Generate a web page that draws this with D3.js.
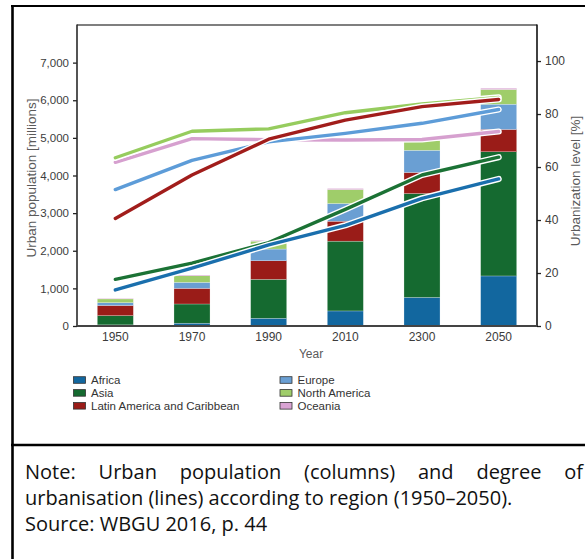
<!DOCTYPE html>
<html>
<head>
<meta charset="utf-8">
<script src="https://cdn.jsdelivr.net/npm/d3@7"></script>
<style>
  html, body { margin: 0; padding: 0; background: #fff; }
  svg { display: block; }
</style>
</head>
<body>
<svg id="chart" width="585" height="559"></svg>
<script>
// ---- data ----
const years = ["1950", "1970", "1990", "2010", "2300", "2050"];
const regions = ["Africa", "Asia", "Latin America and Caribbean", "Europe", "North America", "Oceania"];
// urban population (millions), stacked columns
const africaPop   = [30, 75, 205, 400, 760, 1330];
const asiaPop     = [245, 510, 1035, 1855, 2760, 3300];
const latamPop    = [270, 415, 495, 530, 560, 595];
const europePop   = [75, 160, 310, 470, 590, 670];
const northAmPop  = [100, 175, 210, 370, 265, 390];
const oceaniaPop  = [15, 20, 20, 30, 50, 35];
// urbanization level (%), lines
const africaPct   = [13.6, 21.8, 30.6, 38.0, 48.2, 55.5];
const asiaPct     = [17.6, 23.7, 31.5, 44.0, 57.0, 63.7];
const latamPct    = [40.6, 57.0, 70.5, 77.7, 82.8, 85.5];
const europePct   = [51.5, 62.5, 69.5, 72.7, 76.5, 81.7];
const northAmPct  = [63.5, 73.5, 74.4, 80.5, 83.8, 86.3];
const oceaniaPct  = [61.8, 70.7, 70.3, 70.2, 70.4, 73.4];
const popTicks = [0, 1000, 2000, 3000, 4000, 5000, 6000, 7000];
const pctTicks = [0, 20, 40, 60, 80, 100];
const noteLine1 = ["Note:", "Urban", "population", "(columns)", "and", "degree", "of"];
const noteLine2 = "urbanisation (lines) according to region (1950–2050).";
const noteLine3 = "Source: WBGU 2016, p. 44";

// ---- styles ----
const barColors  = ["#12679f", "#156a30", "#9a1c18", "#6a9fd3", "#9fcd6a", "#d9a3d3"];
const lineColors = ["#1a6fad", "#1b7235", "#a11d1b", "#5d9cd8", "#96cc5e", "#d6a0cf"];

const popSeries = [africaPop, asiaPop, latamPop, europePop, northAmPop, oceaniaPop];
const pctSeries = [africaPct, asiaPct, latamPct, europePct, northAmPct, oceaniaPct];

const table = years.map((y, i) => {
  const row = { year: y };
  regions.forEach((r, k) => row[r] = popSeries[k][i]);
  return row;
});

const svg = d3.select("#chart");
const L = 77, R = 537, T = 25, B = 326;

const x = d3.scaleBand().domain(years).range([L, R]).paddingInner(0.53).paddingOuter(0.265);
const yPop = d3.scaleLinear().domain([0, 8000]).range([B, T]);
const yPct = d3.scaleLinear().domain([0, 113.6]).range([B, T]);

// outer frame
svg.append("line").attr("x1", 11).attr("x2", 585).attr("y1", 6).attr("y2", 6)
  .attr("stroke", "#000").attr("stroke-width", 2.2);
svg.append("line").attr("x1", 12.5).attr("x2", 12.5).attr("y1", 5).attr("y2", 559)
  .attr("stroke", "#000").attr("stroke-width", 2.6);
svg.append("line").attr("x1", 11).attr("x2", 585).attr("y1", 445).attr("y2", 445)
  .attr("stroke", "#000").attr("stroke-width", 2.6);

// bars
const stack = d3.stack().keys(regions)(table);
svg.append("g").selectAll("g").data(stack).join("g")
  .attr("fill", (d, i) => barColors[i])
  .selectAll("rect").data(d => d).join("rect")
  .attr("x", d => x(d.data.year))
  .attr("width", x.bandwidth())
  .attr("y", d => yPop(d[1]))
  .attr("height", d => yPop(d[0]) - yPop(d[1]))
  .attr("stroke", "#ffffff").attr("stroke-width", 0.4).attr("stroke-opacity", 0.6);

// plot frame: top line
svg.append("line").attr("x1", L).attr("x2", R).attr("y1", T).attr("y2", T)
  .attr("stroke", "#555").attr("stroke-width", 1.3);

// lines
const line = d3.line().x((d, i) => x(years[i]) + x.bandwidth() / 2).y(d => yPct(d));
const lg = svg.append("g");
const order = [5, 4, 3, 2, 1, 0];
order.forEach(k => {
  lg.append("path").attr("d", line(pctSeries[k])).attr("fill", "none")
    .attr("stroke", "#ffffff").attr("stroke-width", 6.2)
    .attr("stroke-linecap", "round").attr("stroke-linejoin", "round");
  lg.append("path").attr("d", line(pctSeries[k])).attr("fill", "none")
    .attr("stroke", lineColors[k]).attr("stroke-width", 3.4)
    .attr("stroke-linecap", "round").attr("stroke-linejoin", "round");
});

// axes
const fontFam = "'Liberation Sans', Arial, Helvetica, sans-serif";
const leftAxis = svg.append("g").attr("transform", `translate(${L},0)`)
  .call(d3.axisLeft(yPop).tickValues(popTicks).tickFormat(d3.format(",")).tickSize(4).tickPadding(4));
const rightAxis = svg.append("g").attr("transform", `translate(${R},0)`)
  .call(d3.axisRight(yPct).tickValues(pctTicks).tickSize(4).tickPadding(4));
const bottomAxis = svg.append("g").attr("transform", `translate(0,${B})`)
  .call(d3.axisBottom(x).tickSize(0).tickPadding(6));

[leftAxis, rightAxis, bottomAxis].forEach(a => {
  a.select(".domain").remove();
  a.selectAll("line").attr("stroke", "#222").attr("stroke-width", 1.3);
  a.selectAll("text").attr("font-family", fontFam).attr("font-size", 12).attr("fill", "#3c3c3c");
});
leftAxis.selectAll("text").attr("font-size", 11.5);

// spines
svg.append("line").attr("x1", L).attr("x2", L).attr("y1", T - 0.6).attr("y2", B + 1)
  .attr("stroke", "#2a2a2a").attr("stroke-width", 1.6);
svg.append("line").attr("x1", R).attr("x2", R).attr("y1", T - 0.6).attr("y2", B + 1)
  .attr("stroke", "#111").attr("stroke-width", 1.6);
svg.append("line").attr("x1", L).attr("x2", R).attr("y1", B).attr("y2", B)
  .attr("stroke", "#444").attr("stroke-width", 2);

// axis titles
svg.append("text").attr("transform", "translate(32,178) rotate(-90)")
  .attr("text-anchor", "middle").attr("dominant-baseline", "middle")
  .attr("font-family", fontFam).attr("font-size", 13.5).attr("fill", "#5a5a5a")
  .text("Urban population [millions]");
svg.append("text").attr("transform", "translate(576,181) rotate(-90)")
  .attr("text-anchor", "middle").attr("dominant-baseline", "middle")
  .attr("font-family", fontFam).attr("font-size", 13.5).attr("fill", "#5a5a5a")
  .text("Urbanization level [%]");
svg.append("text").attr("x", 311).attr("y", 355)
  .attr("text-anchor", "middle").attr("dominant-baseline", "middle")
  .attr("font-family", fontFam).attr("font-size", 12).attr("fill", "#5a5a5a")
  .text("Year");

// legend
const legendPos = [
  { x: 73.5, y: 380 }, { x: 73.5, y: 392.9 }, { x: 73.5, y: 405.8 },
  { x: 280, y: 380 }, { x: 280, y: 392.9 }, { x: 280, y: 405.8 }
];
const leg = svg.append("g");
regions.forEach((r, i) => {
  const p = legendPos[i];
  leg.append("rect").attr("x", p.x).attr("y", p.y - 3.3).attr("width", 12).attr("height", 6.6)
    .attr("fill", barColors[i]).attr("stroke", "#333").attr("stroke-width", 0.8);
  leg.append("text").attr("x", p.x + 17.5).attr("y", p.y + 4)
    .attr("font-family", fontFam).attr("font-size", 11.5).attr("fill", "#333")
    .text(r);
});

// note
const noteFont = "'Open Sans', 'Noto Sans', sans-serif";
const noteSize = 20;
const n1 = svg.append("g");
const words = noteLine1.map(w => n1.append("text").attr("y", 479)
  .attr("font-family", noteFont).attr("font-size", noteSize).attr("fill", "#111").text(w));
const widths = words.map(t => t.node().getComputedTextLength());
const total = d3.sum(widths);
const x0 = 25, x1 = 583;
const gap = (x1 - x0 - total) / (words.length - 1);
let cx = x0;
words.forEach((t, i) => { t.attr("x", cx); cx += widths[i] + gap; });
svg.append("text").attr("x", 25).attr("y", 505)
  .attr("font-family", noteFont).attr("font-size", noteSize).attr("fill", "#111").text(noteLine2);
svg.append("text").attr("x", 25).attr("y", 531)
  .attr("font-family", noteFont).attr("font-size", noteSize).attr("fill", "#111").text(noteLine3);
</script>
</body>
</html>
